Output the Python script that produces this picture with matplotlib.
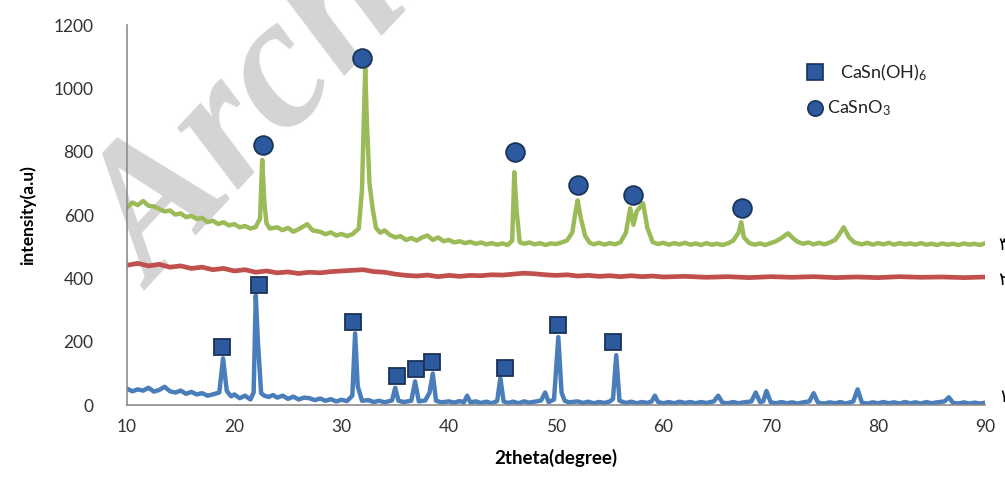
import matplotlib
matplotlib.use("Agg")
import matplotlib.pyplot as plt

plt.rcParams["font.family"] = ["Lato", "DejaVu Sans"]
plt.rcParams["mathtext.fontset"] = "custom"
plt.rcParams["mathtext.rm"] = "Lato"
plt.rcParams["mathtext.default"] = "regular"

# ── data ─────────────────────────────────────────────────────────────────────
green_x = [10, 10.5, 11, 11.5, 12, 12.5, 13, 13.5, 14, 14.5, 15, 15.5, 16, 16.5, 17, 17.5,
           18, 18.5, 19, 19.5, 20, 20.5, 21, 21.5, 22, 22.4, 22.6, 22.8, 23.0, 23.3, 24,
           24.5, 25, 25.5, 26, 26.8, 27.3, 28, 28.5, 29, 29.5, 30, 30.5, 31, 31.6, 31.9,
           32.2, 32.35, 32.6, 32.9, 33.2, 33.6, 34, 34.5, 35, 35.5, 36, 36.5, 37, 37.5,
           38, 38.5, 39, 39.5, 40, 40.5, 41, 41.5, 42, 42.5, 43, 43.5, 44, 44.5, 45, 45.5,
           45.9, 46.1, 46.3, 46.6, 47, 47.5, 48, 48.5, 49, 49.5, 50, 50.5, 51, 51.5, 51.8,
           52.0, 52.3, 52.7, 53.1, 53.5, 54, 54.5, 55, 55.5, 56, 56.5, 56.9, 57.2, 57.5,
           58.1, 58.5, 59, 59.5, 60, 60.5, 61, 61.5, 62, 62.5, 63, 63.5, 64, 64.5, 65, 65.5,
           66, 66.5, 67.0, 67.25, 67.5, 68, 68.5, 69, 69.5, 70, 70.5, 71, 71.6, 72.2, 72.5,
           73, 73.5, 74, 74.5, 75, 75.5, 76, 76.4, 76.8, 77.3, 77.8, 78.5, 79, 79.5, 80,
           80.5, 81, 81.5, 82, 82.5, 83, 83.5, 84, 84.5, 85, 85.5, 86, 86.5, 87, 87.5, 88,
           88.5, 89, 89.5, 90]
green_y = [625, 640, 632, 645, 630, 628, 620, 612, 615, 602, 606, 594, 598, 588, 592, 578,
           583, 572, 578, 568, 572, 562, 566, 558, 563, 590, 775, 640, 575, 558, 562,
           553, 560, 548, 556, 572, 552, 548, 540, 546, 536, 541, 534, 540, 558, 680,
           1065, 900, 700, 620, 560, 545, 552, 538, 530, 534, 522, 528, 520, 530,
           536, 522, 530, 518, 522, 514, 518, 512, 516, 510, 514, 508, 512, 507, 511, 506,
           520, 736, 620, 515, 510, 514, 508, 512, 506, 511, 509, 514, 520, 545, 610,
           647, 590, 535, 514, 508, 513, 507, 512, 508, 515, 545, 622, 570, 612,
           638, 560, 515, 509, 513, 507, 512, 508, 513, 507, 511, 506, 512, 507, 510, 506,
           511, 520, 545, 578, 530, 512, 507, 511, 506, 512, 518, 528, 543, 524, 516,
           510, 514, 508, 513, 508, 514, 522, 540, 562, 530, 514, 508, 513, 507, 512,
           508, 513, 507, 512, 508, 511, 507, 512, 507, 510, 506, 511, 507, 510, 506, 511,
           507, 510, 506, 512]

red_x = [10, 11, 12, 13, 14, 15, 16, 17, 18, 19, 20, 21, 22, 23, 24, 25, 26, 27, 28, 29,
         30, 31, 32, 33, 34, 35, 36, 37, 38, 39, 40, 41, 42, 43, 44, 45, 46, 47, 48, 49,
         50, 51, 52, 53, 54, 55, 56, 57, 58, 59, 60, 62, 64, 66, 68, 70, 72, 74, 76, 78,
         80, 82, 84, 86, 88, 90]
red_y = [442, 448, 440, 445, 436, 440, 432, 436, 428, 432, 424, 428, 420, 424, 418, 421,
         416, 420, 418, 422, 424, 426, 428, 422, 420, 414, 410, 408, 411, 406, 410, 407,
         410, 409, 412, 411, 414, 417, 415, 412, 410, 412, 408, 410, 407, 409, 406, 409,
         406, 408, 405, 407, 404, 406, 403, 406, 404, 406, 403, 405, 403, 406, 404, 405,
         403, 405]

blue_x = [10, 10.5, 11, 11.5, 12, 12.5, 13, 13.5, 14, 14.5, 15, 15.5, 16, 16.5, 17, 17.5,
          18, 18.6, 18.95, 19.3, 19.7, 20, 20.5, 21, 21.5, 21.8, 22.0, 22.2, 22.5, 22.8,
          23.2, 23.6, 24, 24.5, 25, 25.5, 26, 26.5, 27, 27.5, 28, 28.5, 29, 29.5, 30, 30.5,
          31.0, 31.26, 31.5, 31.9, 32.5, 33, 33.5, 34, 34.7, 35.0, 35.3, 35.8, 36.5, 36.85,
          37.2, 37.8, 38.2, 38.5, 38.8, 39.3, 40, 40.5, 41, 41.4, 41.7, 42.0, 42.5, 43,
          43.5, 44, 44.5, 44.8, 45.1, 45.5, 46, 46.5, 47, 47.5, 48, 48.6, 48.97, 49.3,
          49.8, 50.2, 50.5, 50.8, 51.2, 52, 52.5, 53, 53.5, 54, 54.5, 55, 55.3, 55.6, 55.9,
          56.5, 57, 57.5, 58, 58.5, 58.9, 59.2, 59.5, 60, 60.5, 61, 61.5, 62, 62.5, 63,
          63.5, 64, 64.7, 65.1, 65.5, 66, 66.5, 67, 67.5, 68.2, 68.6, 69.0, 69.3, 69.6,
          70.0, 70.5, 71, 71.5, 72, 72.5, 73, 73.6, 74.0, 74.4, 75, 75.5, 76, 76.5, 77,
          77.7, 78.1, 78.5, 79, 79.5, 80, 80.5, 81, 81.5, 82, 82.5, 83, 83.5, 84, 84.5,
          85, 85.5, 86.2, 86.6, 87.0, 87.5, 88, 88.5, 89, 89.5, 90]
blue_y = [52, 44, 50, 46, 55, 43, 48, 58, 44, 40, 46, 36, 42, 34, 38, 30,
          34, 40, 148, 45, 28, 34, 22, 30, 18, 40, 347, 200, 38, 30,
          26, 32, 24, 30, 20, 27, 18, 24, 22, 16, 21, 14, 19, 12, 17, 13,
          30, 227, 60, 14, 16, 10, 14, 9, 15, 55, 14, 10, 14, 75,
          12, 15, 40, 100, 14, 9, 12, 8, 13, 9, 30, 9, 12, 7,
          11, 6, 13, 85, 12, 7, 11, 6, 12, 8, 11, 15, 40, 10,
          18, 215, 40, 14, 9, 12, 7, 11, 6, 10, 7, 12, 20, 158, 14,
          7, 11, 6, 10, 7, 12, 30, 10, 6, 10, 6, 11, 7, 10, 6,
          10, 7, 12, 30, 8, 6, 10, 6, 9, 12, 40, 10, 12, 45,
          9, 6, 10, 6, 9, 5, 9, 12, 38, 8, 5, 9, 6, 10, 5,
          12, 50, 8, 5, 9, 6, 10, 6, 9, 5, 10, 6, 9, 5, 10,
          6, 9, 12, 25, 7, 5, 9, 5, 8, 5, 8]

# peak markers
sq_x = [18.86, 22.3, 31.07, 35.17, 36.95, 38.44, 45.25, 50.19, 55.3]
sq_y = [183, 379, 262, 92, 114, 136, 117, 253, 199]
circ_x = [22.7, 31.9, 46.2, 52.05, 57.2, 67.3]
circ_y = [821, 1096, 799, 695, 663, 622]

curve_labels = ["۳", "۲", "۱"]
curve_label_y = [505, 395, 25]
x_ticks = [10, 20, 30, 40, 50, 60, 70, 80, 90]
y_ticks = [0, 200, 400, 600, 800, 1000, 1200]

GREEN = "#9bbb59"
RED = "#c0504d"
BLUE = "#4a7ebb"
MARK = "#2d5a9e"
MARK_EDGE = "#1a3358"

fig = plt.figure(figsize=(10.05, 4.87), dpi=100)
ax = fig.add_axes([0.1264, 0.168, 0.854, 0.780])

# watermark behind the curves
ax.text(0.058, 0.43, "Archive", transform=fig.transFigure, rotation=47,
        fontsize=135, fontweight="bold", style="italic", family="Liberation Serif",
        color="#d4d4d4", ha="left", va="baseline", zorder=0.5, clip_on=False)

ax.plot(green_x, green_y, color=GREEN, lw=3.2, solid_joinstyle="round", zorder=2)
ax.plot(red_x, red_y, color=RED, lw=3.4, solid_joinstyle="round", zorder=2)
ax.plot(blue_x, blue_y, color=BLUE, lw=3.2, solid_joinstyle="round", zorder=2)

ax.plot(sq_x, sq_y, ls="none", marker="s", ms=11.5, mfc=MARK, mec=MARK_EDGE, mew=1.3, zorder=3)
ax.plot(circ_x, circ_y, ls="none", marker="o", ms=13.5, mfc=MARK, mec=MARK_EDGE, mew=1.3, zorder=3)

for lab, ly in zip(curve_labels, curve_label_y):
    ax.text(91.2, ly, lab, fontsize=13, family="DejaVu Sans", ha="left", va="center",
            clip_on=False)

# legend (drawn by hand like the original)
ax.plot([0.802], [0.876], transform=ax.transAxes, marker="s", ms=11, mfc=MARK,
        mec=MARK_EDGE, mew=1.2, clip_on=False)
ax.plot([0.802], [0.782], transform=ax.transAxes, marker="o", ms=11, mfc=MARK,
        mec=MARK_EDGE, mew=1.2, clip_on=False)
ax.text(0.831, 0.876, "CaSn(OH)$_6$", transform=ax.transAxes, fontsize=13,
        ha="left", va="center", color="#222222")
ax.text(0.815, 0.782, "CaSnO$_3$", transform=ax.transAxes, fontsize=13,
        ha="left", va="center", color="#222222")

ax.set_xlim(10, 90)
ax.set_ylim(0, 1200)
ax.set_xticks(x_ticks)
ax.set_yticks(y_ticks)
ax.tick_params(length=0, labelsize=12.5, colors="#333333")
ax.tick_params(axis="y", pad=24)
ax.tick_params(axis="x", pad=10)
for s in ["top", "right"]:
    ax.spines[s].set_visible(False)
for s in ["left", "bottom"]:
    ax.spines[s].set_color("#8c8c8c")
    ax.spines[s].set_linewidth(1.2)

ax.set_xlabel("2theta(degree)", fontsize=13.5, fontweight="bold", labelpad=10)
ax.set_ylabel("intensity(a.u)", fontsize=12.5, fontweight="bold", labelpad=13)

fig.savefig("out.png", dpi=100)
